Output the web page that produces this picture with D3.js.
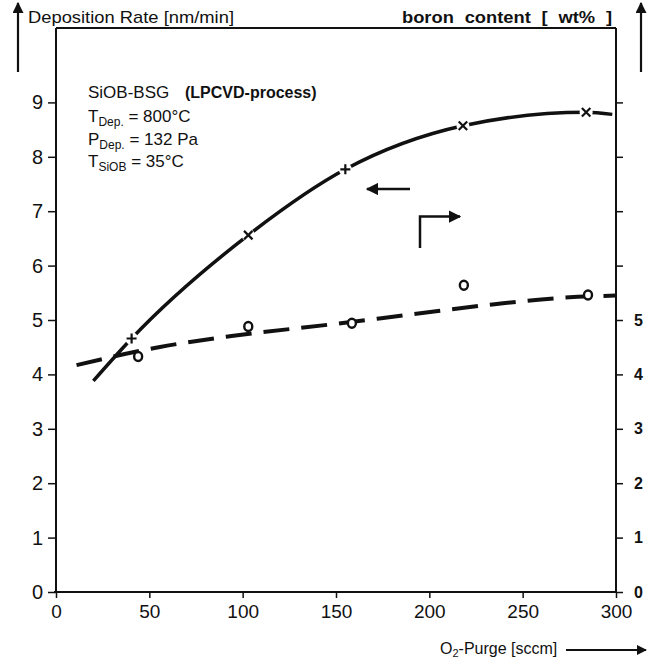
<!DOCTYPE html>
<html>
<head>
<meta charset="utf-8">
<script src="https://cdn.jsdelivr.net/npm/d3@7"></script>
<style>
  body { margin: 0; background: #fff; }
  text { font-family: "Liberation Sans", Arial, sans-serif; fill: #111; }
</style>
</head>
<body>
<script>
// data
let xTicks = [0, 50, 100, 150, 200, 250, 300]
let leftTicks = [0, 1, 2, 3, 4, 5, 6, 7, 8, 9]
let rightTicks = [0, 1, 2, 3, 4, 5, 6, 7, 8, 9]
let rightLabels = ["0", "1", "2", "3", "4", "5", "", "", "", ""]

// deposition rate (solid), fitted curve + measured points
let rateCurve = [[20, 3.88], [40.5, 4.66], [103, 6.56], [155, 7.77], [218, 8.57], [284, 8.82], [298, 8.78]]
let ratePoints = [[40.5, 4.66, "+"], [103, 6.56, "x"], [155, 7.77, "+"], [218, 8.57, "x"], [284, 8.82, "x"]]

// boron content (dashed), fitted line + measured points
let boronCurve = [[11, 4.17], [55, 4.5], [93, 4.7], [150, 4.93], [192, 5.11], [235, 5.29], [272, 5.41], [300, 5.45]]
let boronPoints = [[44, 4.33], [103, 4.88], [158.5, 4.94], [218.5, 5.64], [285, 5.46]]

let w = 648, h = 662
let svg = d3.select("body").append("svg")
            .attr("width", w)
            .attr("height", h)

let x = d3.scaleLinear().domain([0, 300]).range([56, 616])
let y = d3.scaleLinear().domain([0, 9]).range([592, 102.4])
let topY = 28

// frame lines
let frame = svg.append("g").attr("stroke", "#111").attr("stroke-width", 2).attr("fill", "none")
frame.append("line").attr("x1", x(0)).attr("x2", x(0)).attr("y1", y(0)).attr("y2", topY)
frame.append("line").attr("x1", x(300)).attr("x2", x(300)).attr("y1", y(0)).attr("y2", topY)
frame.append("line").attr("x1", x(0) - 2).attr("x2", x(300)).attr("y1", y(0)).attr("y2", y(0))
frame.append("line").attr("x1", x(0)).attr("x2", x(300)).attr("y1", topY).attr("y2", topY)

// axes
let leftAxis = d3.axisLeft(y).tickValues(leftTicks).tickSize(8).tickPadding(5)
let gl = svg.append("g").attr("transform", "translate(" + x(0) + ",0)").call(leftAxis)
gl.select(".domain").remove()
gl.selectAll("text").style("font-size", "20px").attr("fill", "#111")
gl.selectAll("line").attr("stroke", "#111").attr("stroke-width", 1.5)

let bottomAxis = d3.axisBottom(x).tickValues(xTicks).tickSize(6).tickPadding(7)
let gb = svg.append("g").attr("transform", "translate(0," + y(0) + ")").call(bottomAxis)
gb.select(".domain").remove()
gb.selectAll("text").style("font-size", "19px").attr("fill", "#111")
gb.selectAll("line").attr("stroke", "#111").attr("stroke-width", 1.5)

let rightAxis = d3.axisRight(y).tickValues(rightTicks).tickSize(7).tickPadding(11)
    .tickFormat((d, i) => rightLabels[i])
let gr = svg.append("g").attr("transform", "translate(" + x(300) + ",0)").call(rightAxis)
gr.select(".domain").remove()
gr.selectAll("text").style("font-size", "16px").style("font-weight", "bold").attr("fill", "#111")
gr.selectAll("line").attr("stroke", "#111").attr("stroke-width", 1.5)

// arrow heads
svg.append("defs").append("marker")
    .attr("id", "head").attr("viewBox", "0 0 10 10")
    .attr("refX", 9).attr("refY", 5)
    .attr("markerWidth", 5).attr("markerHeight", 5)
    .attr("markerUnits", "strokeWidth")
    .attr("orient", "auto")
    .append("path").attr("d", "M0,0 L10,5 L0,10 z").attr("fill", "#111")

function arrow(pts, sw) {
    svg.append("path")
        .attr("d", d3.line()(pts))
        .attr("fill", "none").attr("stroke", "#111")
        .attr("stroke-width", sw || 2)
        .attr("marker-end", "url(#head)")
}
arrow([[18, 72], [18, 3]], 2.2)
arrow([[641, 72], [641, 3]], 2.2)
arrow([[566, 650], [646, 650]], 2)

// titles
svg.append("text").attr("x", 28).attr("y", 23)
    .attr("textLength", 206).attr("lengthAdjust", "spacingAndGlyphs")
    .style("font-size", "17px").text("Deposition Rate [nm/min]")
svg.append("text").attr("x", 402).attr("y", 23)
    .attr("textLength", 210).attr("lengthAdjust", "spacingAndGlyphs")
    .style("font-size", "16px").style("font-weight", "bold")
    .style("word-spacing", "5px").text("boron content  [  wt%  ]")

let xl = svg.append("text").attr("x", 440).attr("y", 654).style("font-size", "16px")
xl.append("tspan").text("O")
xl.append("tspan").attr("dy", 3).style("font-size", "11px").text("2")
xl.append("tspan").attr("dy", -3).text("-Purge [sccm]")

// process conditions
let info = svg.append("g").style("font-size", "17px")
let t0 = info.append("text").attr("x", 88).attr("y", 98)
t0.append("tspan").text("SiOB-BSG")
t0.append("tspan").attr("x", 185).style("font-weight", "bold").style("font-size", "16px").text("(LPCVD-process)")

let conds = [["T", "Dep.", "= 800°C", 122], ["P", "Dep.", "= 132 Pa", 145], ["T", "SiOB", "= 35°C", 167]]
conds.forEach(c => {
    let t = info.append("text").attr("x", 88).attr("y", c[3])
    t.append("tspan").text(c[0])
    t.append("tspan").attr("dy", 4).style("font-size", "12px").text(c[1])
    t.append("tspan").attr("dy", -4).text(" " + c[2])
})

// legend arrows
arrow([[410, 189], [367, 189]], 2.5)
arrow([[420, 248], [420, 216.5], [460, 216.5]], 2.5)

// curves
let line = d3.line().x(d => x(d[0])).y(d => y(d[1])).curve(d3.curveMonotoneX)
svg.append("path").attr("d", line(boronCurve))
    .attr("fill", "none").attr("stroke", "#111").attr("stroke-width", 4)
    .attr("stroke-dasharray", "26,12")
svg.append("path").attr("d", line(rateCurve))
    .attr("fill", "none").attr("stroke", "#111").attr("stroke-width", 3.5)

// measured points
svg.selectAll(".gap").data(ratePoints).enter().append("circle")
    .attr("cx", d => x(d[0])).attr("cy", d => y(d[1])).attr("r", 6.5).attr("fill", "#fff")
svg.selectAll(".mark").data(ratePoints).enter().append("path")
    .attr("transform", d => "translate(" + x(d[0]) + "," + y(d[1]) + ")" + (d[2] == "x" ? " rotate(45)" : ""))
    .attr("d", d => d[2] == "x" ? "M-6,0 L6,0 M0,-6 L0,6" : "M-5,0 L5,0 M0,-5 L0,5")
    .attr("stroke", "#111").attr("stroke-width", 2.2)

svg.selectAll(".bp").data(boronPoints).enter().append("ellipse")
    .attr("cx", d => x(d[0])).attr("cy", d => y(d[1]))
    .attr("rx", 4).attr("ry", 4.5)
    .attr("fill", "#fff").attr("stroke", "#111").attr("stroke-width", 2.4)
</script>
</body>
</html>
